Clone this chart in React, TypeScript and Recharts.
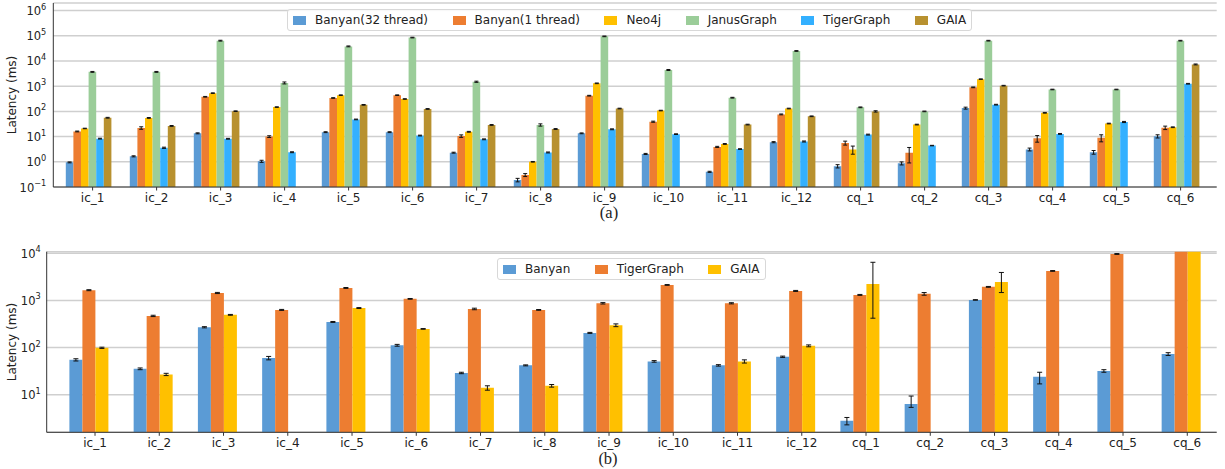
import React from "react";
import { BarChart, Bar, XAxis, YAxis, CartesianGrid, ErrorBar, Legend, Label } from "recharts";

// query names, shared by both panels
const categories = [
  "ic_1", "ic_2", "ic_3", "ic_4", "ic_5", "ic_6", "ic_7", "ic_8", "ic_9",
  "ic_10", "ic_11", "ic_12", "cq_1", "cq_2", "cq_3", "cq_4", "cq_5", "cq_6",
];

// (a) latency in ms
const banyan32 = [0.95, 1.65, 13.5, 1.05, 15, 15, 2.3, 0.19, 13.5, 2.05, 0.4, 6.0, 0.67, 0.87, 135, 3.1, 2.4, 10.3];
const banyan1 = [16, 22, 380, 10, 340, 440, 10.5, 0.3, 420, 39, 3.9, 76, 5.6, 2.3, 900, 8.5, 9.0, 22.5];
const neo4j = [21, 55, 530, 148, 440, 310, 15.5, 1.0, 1300, 108, 5.1, 130, 3.1, 30, 1900, 88, 33, 23.5];
const janus = [3700, 3700, 64000, 1350, 38000, 85000, 1500, 29, 95000, 4400, 350, 25000, 145, 100, 64000, 740, 740, 64000];
const tiger = [8.3, 3.6, 8.2, 2.4, 48, 11, 7.8, 2.35, 19.5, 12.5, 3.2, 6.4, 12, 4.4, 185, 12.8, 38, 1250];
const gaia = [56, 26.5, 102, null, 182, 125, 29, 20, 130, null, 30, 64, 100, null, 1050, null, null, 7300];

const banyan32Err = [0.04, 0.08, 0.6, 0.1, 0.6, 0.6, 0.1, 0.03, 0.5, 0.1, 0.02, 0.3, 0.1, 0.12, 12, 0.4, 0.4, 1.5];
const banyan1Err = [0.6, 2.5, 12, 0.8, 10, 12, 1.2, 0.04, 14, 2, 0.2, 3, 1.0, 1.4, 30, 2.5, 2.8, 3.5];
const neo4jErr = [0.5, 2, 15, 4, 12, 8, 0.6, 0.03, 40, 3, 0.2, 4, 1.1, 1, 50, 3, 1, 0.8];
const janusErr = [150, 150, 2500, 120, 1500, 2500, 80, 3, 3000, 200, 12, 800, 5, 3, 2000, 20, 20, 2000];
const tigerErr = [0.3, 0.2, 0.3, 0.1, 1.5, 0.4, 0.3, 0.1, 0.8, 0.4, 0.1, 0.3, 0.5, 0.1, 6, 0.5, 2, 40];
const gaiaErr = [2, 1, 3, null, 6, 4, 1, 0.8, 4, null, 1, 2, 6, null, 30, null, null, 300];

// (b) latency in ms (cq_6 TigerGraph / GAIA run past the top of the axis)
const bBanyan = [55, 35.5, 270, 60, 350, 112, 29, 42, 205, 51, 42, 64, 2.8, 6.4, 1025, 24, 32, 73];
const bTiger = [1650, 470, 1440, 630, 1840, 1080, 660, 630, 870, 2130, 870, 1590, 1310, 1380, 1940, 4220, 9660, 15000];
const bGaia = [99, 27, 495, null, 690, 249, 14, 15.5, 298, null, 51, 109, 2240, null, 2470, null, null, 15000];

const bBanyanErr = [3, 1.5, 8, 5, 8, 5, 1, 1, 5, 2, 1.5, 2, 0.5, [1, 3], 12, [7, 6], 2, 5];
const bTigerErr = [40, 15, 40, 15, 40, 20, 25, 12, 30, 40, 25, 40, 30, 90, 40, 80, 200, null];
const bGaiaErr = [3, 1.5, 10, null, 15, 4, 1.5, 1, 20, null, 4, 5, [1820, 4200], null, [1000, 1450], null, null, null];

const topTicks = [0.1, 1, 10, 100, 1000, 10000, 100000, 1000000];
const bottomTicks = [10, 100, 1000, 10000];

const topSeries = [
  { key: "banyan32", name: "Banyan(32 thread)", color: "#5B9BD5", values: banyan32, err: banyan32Err },
  { key: "banyan1", name: "Banyan(1 thread)", color: "#ED7D31", values: banyan1, err: banyan1Err },
  { key: "neo4j", name: "Neo4j", color: "#FFC000", values: neo4j, err: neo4jErr },
  { key: "janus", name: "JanusGraph", color: "#9BCD99", values: janus, err: janusErr },
  { key: "tiger", name: "TigerGraph", color: "#33B0FF", values: tiger, err: tigerErr },
  { key: "gaia", name: "GAIA", color: "#B8912F", values: gaia, err: gaiaErr },
];

const bottomSeries = [
  { key: "banyan", name: "Banyan", color: "#5B9BD5", values: bBanyan, err: bBanyanErr },
  { key: "tiger", name: "TigerGraph", color: "#ED7D31", values: bTiger, err: bTigerErr },
  { key: "gaia", name: "GAIA", color: "#FFC000", values: bGaia, err: bGaiaErr },
];

function buildRows(series: any[]) {
  return categories.map((cat, i) => {
    const row: any = { cat };
    series.forEach((s) => {
      row[s.key] = s.values[i];
      row[s.key + "Err"] = s.err[i];
    });
    return row;
  });
}

const FONT = "DejaVu Sans";

const makeYTick = (gap: number) => (props: any) => {
  const { x, y, payload } = props;
  const exp = Math.round(Math.log10(payload.value));
  return (
    <text x={x - gap} y={y + 4.5} textAnchor="end" fontFamily={FONT} fontSize={11.5} fill="#222">
      10
      <tspan dy={-5.5} fontSize={8.2}>{exp < 0 ? "\u2212" + -exp : String(exp)}</tspan>
    </text>
  );
};

const makeXTick = (dx: number) => (props: any) => {
  const { x, y, payload } = props;
  return (
    <g>
      <line x1={x + dx} x2={x + dx} y1={y} y2={y + 3.5} stroke="#333" />
      <text x={x + dx} y={y + 14.5} textAnchor="middle" fontFamily={FONT} fontSize={12} fill="#222">
        {payload.value}
      </text>
    </g>
  );
};

const yLabel = (props: any) => {
  const vb = props.viewBox || {};
  const cy = (vb.y || 0) + (vb.height || 0) / 2;
  return (
    <text x={12} y={cy} transform={`rotate(-90 12 ${cy})`} textAnchor="middle" dominantBaseline="central"
      fontFamily={FONT} fontSize={12} fill="#222">
      Latency (ms)
    </text>
  );
};

const makeLegend = (names: string[]) => (props: any) => {
  const payload: any[] = props.payload || [];
  const items = names.map((n) => payload.find((p) => p.value === n)).filter(Boolean);
  return (
    <div style={{
      display: "flex", alignItems: "center", height: 20, padding: "0 5px",
      border: "1px solid #d8d8d8", borderRadius: 3, background: "rgba(255,255,255,0.85)",
      fontFamily: FONT, fontSize: 12, color: "#222", whiteSpace: "nowrap",
    }}>
      {items.map((p: any, i: number) => (
        <div key={p.value} style={{ display: "flex", alignItems: "center", marginLeft: i ? 24.5 : 0 }}>
          <span style={{ display: "inline-block", width: 13, height: 9, background: p.color, marginRight: 9 }} />
          <span>{p.value}</span>
        </div>
      ))}
    </div>
  );
};

const topRows = buildRows(topSeries);
const bottomRows = buildRows(bottomSeries);

export default function App() {
  return (
    <div style={{ position: "absolute", left: 0, top: 0, width: 1225, height: 469, background: "#fff" }}>
      <div style={{ position: "absolute", left: 0, top: 0 }}>
        <BarChart width={1225} height={220} data={topRows} barSize={7.6} barGap={0}
          margin={{ top: 3, right: 8.3, left: 0, bottom: 3 }}>
          <CartesianGrid vertical={false} stroke="#cfcfcf" strokeWidth={1.5} />
          <XAxis dataKey="cat" height={30} padding={{ left: 3.5, right: 7.9 }} interval={0}
            tickSize={0} tickMargin={0} tickLine={false} axisLine={{ stroke: "#333" }} tick={makeXTick(3.8)} />
          <XAxis xAxisId="top" dataKey="cat" orientation="top" height={0} tick={false} tickLine={false}
            axisLine={{ stroke: "#777", strokeWidth: 2 }} />
          <YAxis scale="log" domain={[0.1, 2000000]} allowDataOverflow ticks={topTicks} width={53.3}
            tickSize={0} tickMargin={0} tickLine={false} axisLine={{ stroke: "#333" }} tick={makeYTick(7)} interval={0}>
            <Label content={yLabel} />
          </YAxis>
          <YAxis yAxisId="right" orientation="right" width={0} tick={false} tickLine={false} axisLine={{ stroke: "#333" }} />
          <Legend layout="horizontal" verticalAlign="middle" align="center"
            wrapperStyle={{ top: 9, left: 287, width: "auto" }} content={makeLegend(topSeries.map((s) => s.name))} />
          {topSeries.map((s) => (
            <Bar key={s.key} dataKey={s.key} name={s.name} fill={s.color} isAnimationActive={false}>
              <ErrorBar dataKey={s.key + "Err"} width={2} stroke="#111" strokeWidth={1} />
            </Bar>
          ))}
        </BarChart>
      </div>
      <div style={{ position: "absolute", left: 0, top: 205, width: 1218, textAlign: "center", fontFamily: "Liberation Serif", fontSize: 16.5, lineHeight: "15px", color: "#222" }}>
        (a)
      </div>

      <div style={{ position: "absolute", left: 0, top: 240 }}>
        <BarChart width={1225} height={229} data={bottomRows} barSize={13} barGap={0}
          margin={{ top: 11.7, right: 8.3, left: 0, bottom: 6.7 }}>
          <CartesianGrid vertical={false} stroke="#cfcfcf" strokeWidth={1.5} />
          <XAxis dataKey="cat" height={30} padding={{ left: 9.7, right: 3.8 }} interval={0}
            tickSize={0} tickMargin={0} tickLine={false} axisLine={{ stroke: "#333" }} tick={makeXTick(6.5)} />
          <XAxis xAxisId="top" dataKey="cat" orientation="top" height={0} tick={false} tickLine={false}
            axisLine={{ stroke: "#666", strokeWidth: 1.5 }} />
          <YAxis scale="log" domain={[1.6, 10800]} allowDataOverflow ticks={bottomTicks} width={46.7}
            tickSize={0} tickMargin={0} tickLine={false} axisLine={{ stroke: "#333" }} tick={makeYTick(6)} interval={0}>
            <Label content={yLabel} />
          </YAxis>
          <YAxis yAxisId="right" orientation="right" width={0} tick={false} tickLine={false} axisLine={{ stroke: "#333" }} />
          <Legend layout="horizontal" verticalAlign="middle" align="center"
            wrapperStyle={{ top: 18, left: 497, width: "auto" }} content={makeLegend(bottomSeries.map((s) => s.name))} />
          {bottomSeries.map((s) => (
            <Bar key={s.key} dataKey={s.key} name={s.name} fill={s.color} isAnimationActive={false}>
              <ErrorBar dataKey={s.key + "Err"} width={2.5} stroke="#111" strokeWidth={1} />
            </Bar>
          ))}
        </BarChart>
      </div>
      <div style={{ position: "absolute", left: 0, top: 451, width: 1216, textAlign: "center", fontFamily: "Liberation Serif", fontSize: 16.5, lineHeight: "15px", color: "#222" }}>
        (b)
      </div>
    </div>
  );
}
